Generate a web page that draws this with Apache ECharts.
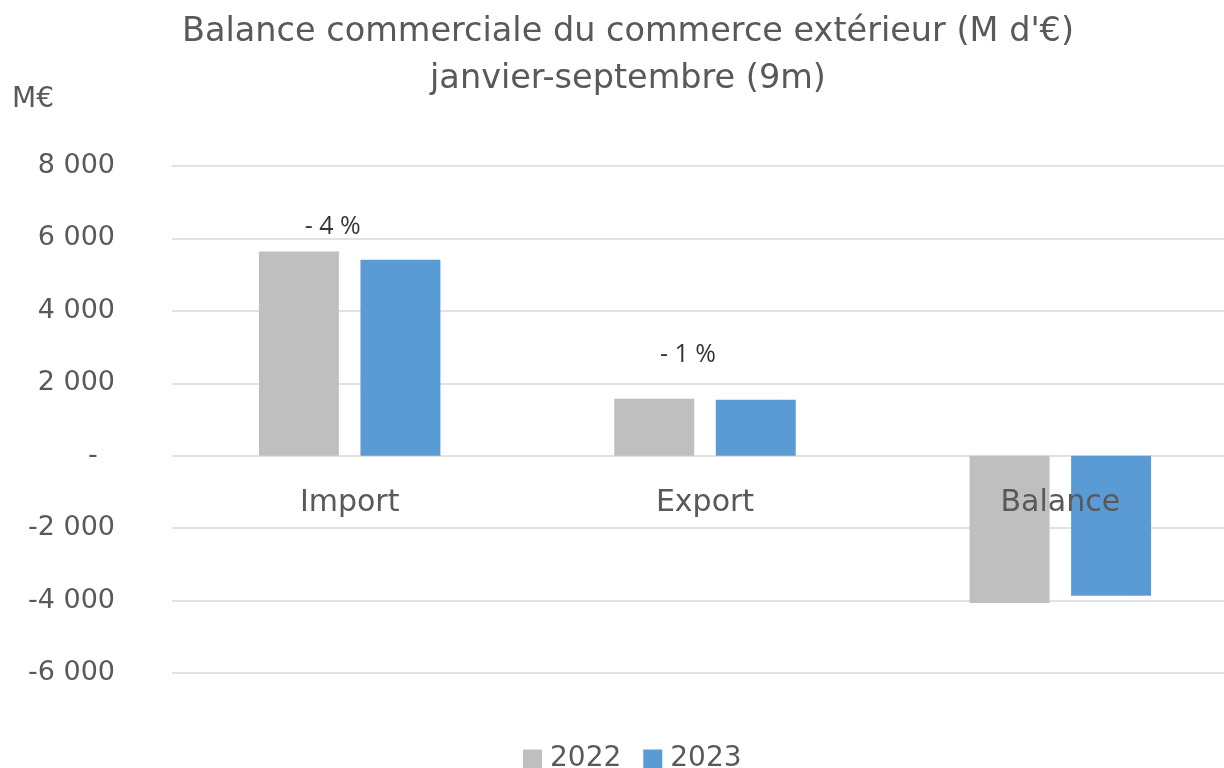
<!DOCTYPE html>
<html><head><meta charset="utf-8">
<script src="https://cdn.jsdelivr.net/npm/echarts@6/dist/echarts.min.js"></script>
<style>html,body{margin:0;padding:0;background:#fff}#c{width:1224px;height:768px}</style>
</head><body><div id="c"></div>
<script>
const categories = ['Import', 'Export', 'Balance'];
const seriesNames = ['2022', '2023'];
const values2022 = [5640, 1570, -4070];
const values2023 = [5410, 1545, -3865];
const changeLabels = ['- 4 %', '- 1 %'];
const changeLabelY = [6330, 2780];

const FONT = '"DejaVu Sans", sans-serif';
const chart = echarts.init(document.getElementById('c'));
function fmt(v){ if (v === 0) return '-  '; const s = Math.abs(v).toString().replace(/\B(?=(\d{3})+(?!\d))/g, ' '); return (v < 0 ? '-' : '') + s; }

chart.setOption({
  animation: false,
  textStyle: { fontFamily: FONT },
  title: {
    text: 'Balance commerciale du commerce extérieur (M d\'€)\njanvier-septembre (9m)',
    left: 623, top: 4, textAlign: 'center',
    textStyle: { fontFamily: FONT, fontSize: 33.5, fontWeight: 'normal', color: '#595959', lineHeight: 47 }
  },
  graphic: [{ type: 'text', left: 12, top: 86, style: { text: 'M€', fontFamily: FONT, fontSize: 28, fill: '#595959' } }],
  legend: {
    bottom: -10, left: 518, itemWidth: 19, itemHeight: 19, itemGap: 22,
    icon: 'rect',
    textStyle: { fontFamily: FONT, fontSize: 28, color: '#595959', padding: [0, 0, 0, 3] },
    data: seriesNames
  },
  grid: { left: 172, right: -14, top: 166, bottom: 95, containLabel: false, outerBoundsMode: 'none' },
  xAxis: {
    type: 'category', data: categories, z: 10,
    axisLine: { show: false, onZero: false },
    axisTick: { show: false },
    axisLabel: { margin: -185, verticalAlign: 'top', fontFamily: FONT, fontSize: 30, color: '#595959' }
  },
  yAxis: {
    type: 'value', min: -6000, max: 8000, interval: 2000,
    axisLine: { show: false }, axisTick: { show: false },
    splitLine: { lineStyle: { color: '#D9D9D9', width: 1.5 } },
    axisLabel: { margin: 57, fontFamily: FONT, fontSize: 27, color: '#595959', formatter: fmt }
  },
  series: [
    { name: seriesNames[0], type: 'bar', data: values2022, barWidth: '22.5%', barGap: '27%', itemStyle: { color: '#BFBFBF' } },
    { name: seriesNames[1], type: 'bar', data: values2023, barWidth: '22.5%', barGap: '27%', itemStyle: { color: '#5B9BD5' } },
    {
      name: 'change', type: 'scatter', symbolSize: 1, itemStyle: { color: 'rgba(0,0,0,0)' }, z: 5,
      data: changeLabels.map((t, i) => [i, changeLabelY[i], t]),
      label: { show: true, position: 'inside', offset: [-17, 0], fontFamily: '"Open Sans", sans-serif', fontSize: 25, color: '#000', formatter: p => p.data[2] },
      tooltip: { show: false }
    }
  ]
});
</script></body></html>
